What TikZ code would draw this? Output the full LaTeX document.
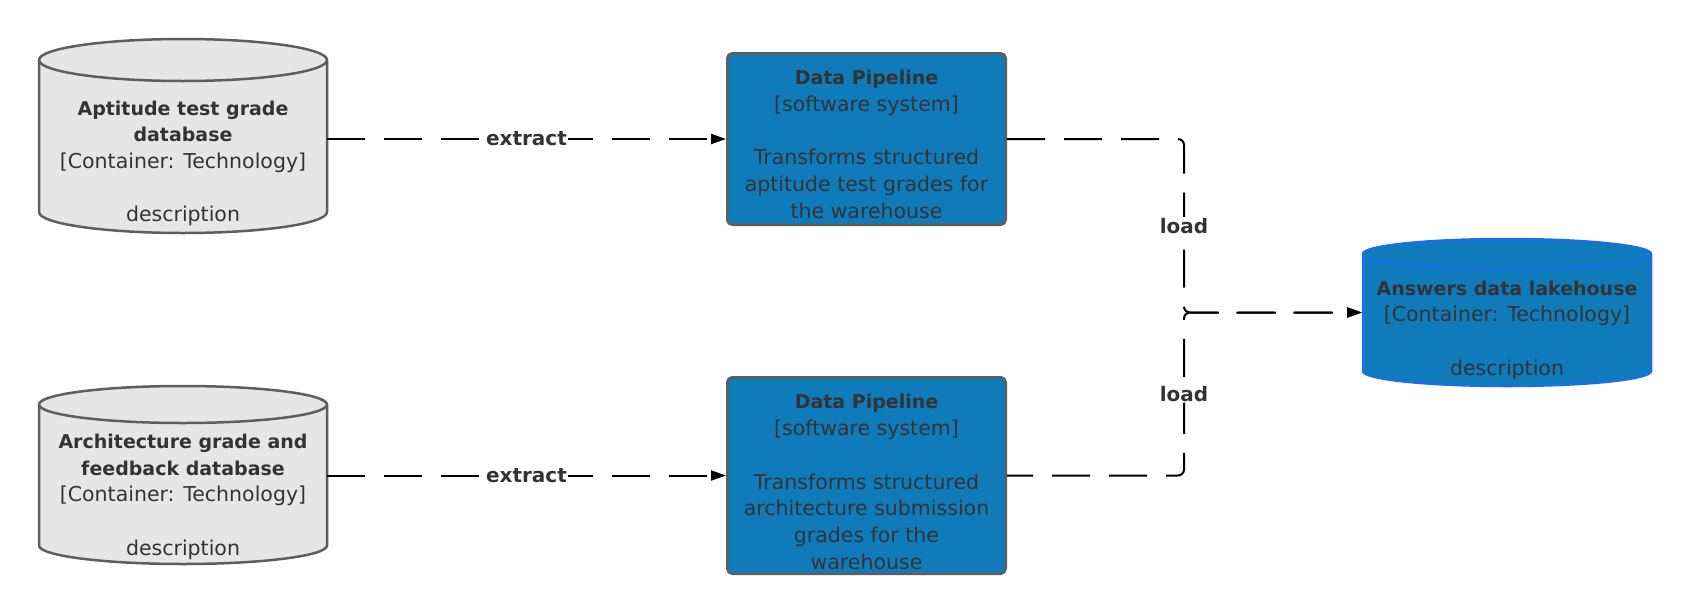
\documentclass[tikz,border=0pt]{standalone}
\usepackage{fontspec}
\setmainfont{DejaVu Sans}
\usetikzlibrary{arrows.meta}
\definecolor{dbfill}{HTML}{E6E6E6}
\definecolor{dbline}{HTML}{5E5E5E}
\definecolor{sysfill}{HTML}{0F7BBB}
\definecolor{lakeline}{HTML}{1A6FE6}
\definecolor{txtc}{HTML}{333333}
\newcommand\myreg{\fontsize{20.5}{26.7}\selectfont}
\newcommand\mybold{\fontsize{19}{26.7}\selectfont\bfseries}
\newcommand\mylabelfont{\fontsize{20}{24}\selectfont\bfseries}
% #1 x1, #2 x2, #3 ytop, #4 ybot, #5 ry, #6 style
\newcommand\mycyl[6]{%
  \pgfmathsetmacro\myrx{(#2-#1)/2}%
  \path[#6] (#1,#3+#5) -- (#1,#4-#5)
    arc[start angle=180,end angle=0,x radius=\myrx,y radius=#5]
    -- (#2,#3+#5)
    arc[start angle=0,end angle=-180,x radius=\myrx,y radius=#5] -- cycle;
  \draw[#6,fill=none] (#1,#3+#5)
    arc[start angle=180,end angle=0,x radius=\myrx,y radius=#5];
}
\begin{document}
\begin{tikzpicture}[x=1pt,y=-1pt,
  hit/.style={inner sep=0pt,outer sep=0pt},
  dbshape/.style={draw=dbline,fill=dbfill,line width=2.5pt},
  lakeshape/.style={draw=lakeline,fill=sysfill,line width=2.5pt},
  pipebox/.style={draw=dbline,fill=sysfill,line width=2.5pt,rounded corners=5pt,inner sep=0pt},
  txt/.style={align=center,text=txtc,font=\myreg,inner sep=0pt},
  conn/.style={draw=black,line width=2pt,dash pattern=on 38pt off 19pt,
    -{Triangle[length=15pt,width=10pt]}},
  lbl/.style={fill=white,inner sep=1pt,text=txtc,font=\mylabelfont}]
\useasboundingbox (0,0) rectangle (1690,616);
\fill[white] (0,0) rectangle (1690,616);

% cylinders
\mycyl{39}{327}{39}{233}{21}{dbshape}
\mycyl{39}{327}{386}{564}{18.5}{dbshape}
\mycyl{1363}{1651}{239}{386}{15}{lakeshape}
\node[hit,minimum width=288pt,minimum height=194pt] (db1) at (183,136) {};
\node[hit,minimum width=288pt,minimum height=178pt] (db2) at (183,475) {};
\node[hit,minimum width=288pt,minimum height=147pt] (lake) at (1507,312.5) {};

% pipeline boxes
\node[pipebox,minimum width=278.5pt,minimum height=171.5pt] (pipe1) at (866.5,139) {};
\node[pipebox,minimum width=278.5pt,minimum height=196.5pt] (pipe2) at (866.5,475.5) {};

% texts
\node[txt] (db1t) at (183,163.5) {{\mybold Aptitude test grade}\\{\mybold database}\\{[Container: Technology]}\\[26.7pt]description};
\node[txt] (db2t) at (183,496.8) {{\mybold Architecture grade and}\\{\mybold feedback database}\\{[Container: Technology]}\\[26.7pt]description};
\node[txt] (pipe1t) at (866.5,144.5) {{\mybold Data Pipeline}\\{[software system]}\\[26.7pt]Transforms structured\\aptitude test grades for\\the warehouse};
\node[txt] (pipe2t) at (866.5,482) {{\mybold Data Pipeline}\\{[software system]}\\[26.7pt]Transforms structured\\architecture submission\\grades for the\\warehouse};
\node[txt] (laket) at (1507,330) {{\mybold Answers data lakehouse}\\{[Container: Technology]}\\[26.7pt]description};

% connectors
\coordinate (jn) at (1184,312.5);
\draw[conn] (pipe1.west -| db1.east) -- node[lbl]{extract} (pipe1.west);
\draw[conn] (pipe2.west -| db2.east) -- node[lbl]{extract} (pipe2.west);
\draw[conn,rounded corners=6pt,shorten >=1pt] (pipe1.east) -| node[lbl,pos=0.75]{load} (jn) -- (lake.west);
\draw[conn,rounded corners=6pt,shorten >=1pt,dash phase=12pt] (pipe2.east) -| node[lbl,pos=0.75]{load} (jn) -- (lake.west);
\end{tikzpicture}
\end{document}
